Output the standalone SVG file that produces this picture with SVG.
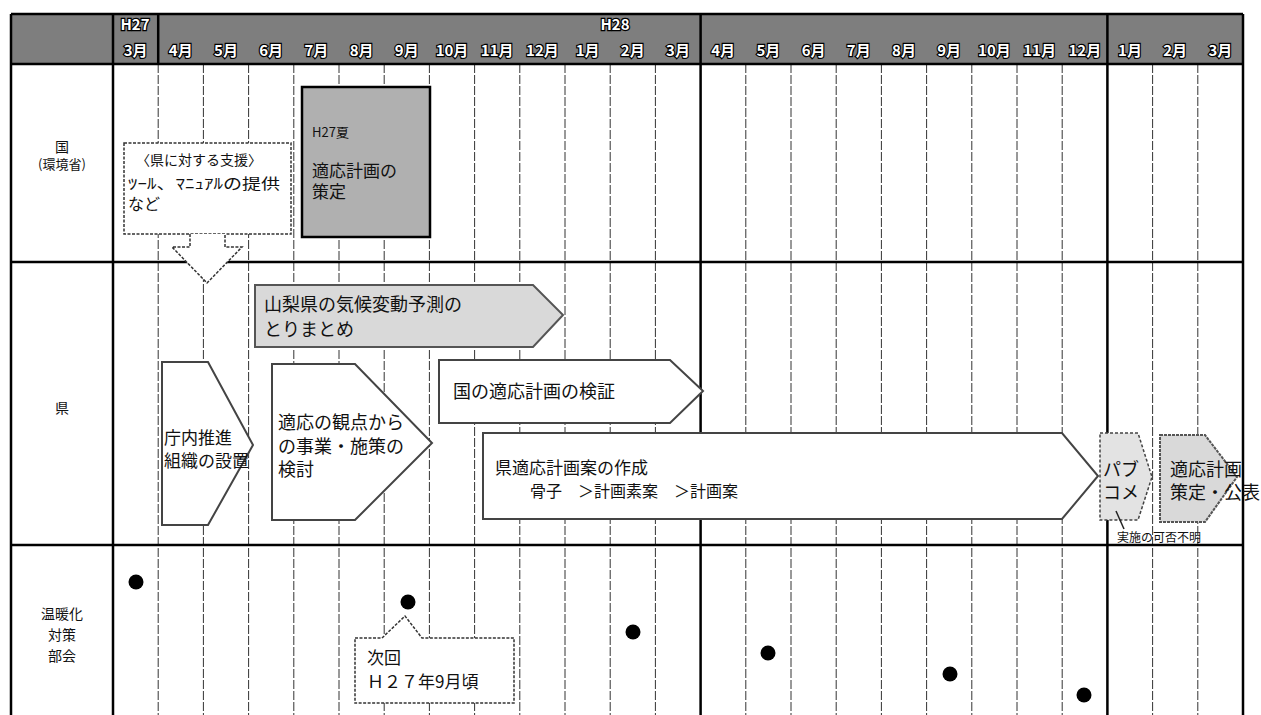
<svg xmlns="http://www.w3.org/2000/svg" width="1261" height="715" viewBox="0 0 1261 715">
<defs>
<style>
.t{font-family:"Noto Sans CJK JP","Noto Sans CJK SC",sans-serif;fill:#111;}
.h{font-family:"Noto Sans CJK JP","Noto Sans CJK SC",sans-serif;font-weight:bold;font-size:15px;fill:#fff;stroke:#000;stroke-width:2.4px;paint-order:stroke;text-anchor:middle}
.grid{stroke:#333;stroke-width:1;stroke-dasharray:9 2;fill:none}
.major{stroke:#000;stroke-width:2.5;fill:none}
.shape{fill:#fff;stroke:#444;stroke-width:2}
.gshape{fill:#d9d9d9;stroke:#555;stroke-width:2}
.dash{fill:#fff;stroke:#333;stroke-width:1.5;stroke-dasharray:3 1.5}
.dot{fill:#000}
</style>
</defs>
<rect x="0" y="0" width="1261" height="715" fill="#fff"/>

<g id="header">
<rect x="11" y="14" width="1232" height="50" fill="#7e7e7e"/>
<text class="h" x="135" y="30">H27</text>
<text class="h" x="615" y="30">H28</text>
<text class="h" x="135.6" y="56">3月</text>
<text class="h" x="180.8" y="56">4月</text>
<text class="h" x="226" y="56">5月</text>
<text class="h" x="271.2" y="56">6月</text>
<text class="h" x="316.4" y="56">7月</text>
<text class="h" x="361.6" y="56">8月</text>
<text class="h" x="406.8" y="56">9月</text>
<text class="h" x="452" y="56">10月</text>
<text class="h" x="497.2" y="56">11月</text>
<text class="h" x="542.4" y="56">12月</text>
<text class="h" x="587.6" y="56">1月</text>
<text class="h" x="632.8" y="56">2月</text>
<text class="h" x="678" y="56">3月</text>
<text class="h" x="723.2" y="56">4月</text>
<text class="h" x="768.4" y="56">5月</text>
<text class="h" x="813.6" y="56">6月</text>
<text class="h" x="858.8" y="56">7月</text>
<text class="h" x="904" y="56">8月</text>
<text class="h" x="949.2" y="56">9月</text>
<text class="h" x="994.4" y="56">10月</text>
<text class="h" x="1039.6" y="56">11月</text>
<text class="h" x="1084.8" y="56">12月</text>
<text class="h" x="1130" y="56">1月</text>
<text class="h" x="1175.2" y="56">2月</text>
<text class="h" x="1220.4" y="56">3月</text>
</g>

<g id="grid">
<path class="grid" d="M158.2,64V715M203.4,64V715M248.6,64V715M293.8,64V715M339,64V715M384.2,64V715M429.4,64V715M474.6,64V715M519.8,64V715M565,64V715M610.2,64V715M655.4,64V715M745.8,64V715M791,64V715M836.2,64V715M881.4,64V715M926.6,64V715M971.8,64V715M1017,64V715M1062.2,64V715M1152.6,64V715M1197.8,64V715"/>
<path class="major" d="M11,14H1243M11,64H1243M11,262H1243M11,545H1243M11,14V715M113,14V715M1243,14V715M700.6,14V715M1107.4,14V715M158.2,14V64"/>
</g>

<g id="row-labels">
<text class="t" x="62" y="152" font-size="14" text-anchor="middle">国</text>
<text class="t" x="62" y="169" font-size="13" text-anchor="middle">(環境省)</text>
<text class="t" x="62" y="413" font-size="14" text-anchor="middle">県</text>
<text class="t" x="62" y="619" font-size="14" text-anchor="middle">温暖化</text>
<text class="t" x="62" y="640" font-size="14" text-anchor="middle">対策</text>
<text class="t" x="62" y="661" font-size="14" text-anchor="middle">部会</text>
</g>

<g id="support">
<rect class="dash" x="124" y="143" width="167" height="91"/>
<path class="dash" d="M190,234V247H172L207,283L242,247H225V234"/>
<text class="t" x="136" y="165" font-size="14">〈県に対する支援〉</text>
<text class="t" x="128" y="189" font-size="15" textLength="152" lengthAdjust="spacingAndGlyphs">ﾂｰﾙ、ﾏﾆｭｱﾙの提供</text>
<text class="t" x="128" y="210" font-size="16">など</text>
</g>

<g id="kuni-plan">
<rect x="302" y="87" width="128" height="150" fill="#b0b0b0" stroke="#000" stroke-width="2.5"/>
<text class="t" x="312" y="137" font-size="13">H27夏</text>
<text class="t" x="312" y="177" font-size="17">適応計画の</text>
<text class="t" x="312" y="198" font-size="17">策定</text>
</g>

<g id="yamanashi">
<polygon class="gshape" points="255,285 533,285 563,315 533,347 255,347"/>
<text class="t" x="264" y="311" font-size="18">山梨県の気候変動予測の</text>
<text class="t" x="264" y="336" font-size="18">とりまとめ</text>
</g>

<g id="kensho">
<polygon class="shape" points="439,360 670,360 703,391 670,423 439,423"/>
<text class="t" x="453" y="398" font-size="18">国の適応計画の検証</text>
</g>

<g id="choucho">
<polygon class="shape" points="162,362 208,362 253,445 208,525 162,525"/>
<text class="t" x="164" y="444" font-size="17">庁内推進</text>
<text class="t" x="164" y="467" font-size="17">組織の設置</text>
</g>

<g id="kento">
<polygon class="shape" points="272,364 355,364 432,443 355,520 272,520"/>
<text class="t" x="278" y="429" font-size="18">適応の観点から</text>
<text class="t" x="278" y="453" font-size="18">の事業・施策の</text>
<text class="t" x="278" y="476" font-size="18">検討</text>
</g>

<g id="sakusei">
<polygon class="shape" points="483,433 1062,433 1098,476 1062,519 483,519"/>
<text class="t" x="495" y="474" font-size="17">県適応計画案の作成</text>
<text class="t" x="530" y="497" font-size="16">骨子　＞計画素案　＞計画案</text>
</g>

<g id="pabukome">
<polygon points="1100,433 1138,433 1152,477 1138,520 1100,520" fill="#e3e3e3" stroke="#444" stroke-width="1.5" stroke-dasharray="3 2"/>
<text class="t" x="1103" y="476" font-size="18">パブ</text>
<text class="t" x="1103" y="499" font-size="18">コメ</text>
<line x1="1116" y1="511" x2="1124" y2="529" stroke="#222" stroke-width="1.5"/>
<text class="t" x="1117" y="542" font-size="12">実施の可否不明</text>
</g>

<g id="kohyo">
<polygon points="1160,435 1205,435 1237,477 1205,522 1160,522" fill="#d9d9d9" stroke="#555" stroke-width="2" stroke-dasharray="3 1"/>
<text class="t" x="1170" y="476" font-size="18">適応計画</text>
<text class="t" x="1170" y="499" font-size="18">策定・公表</text>
</g>

<g id="meetings">
<circle class="dot" cx="136" cy="582" r="7.5"/>
<circle class="dot" cx="408" cy="602" r="7.5"/>
<circle class="dot" cx="633" cy="632" r="7.5"/>
<circle class="dot" cx="768" cy="653" r="7.5"/>
<circle class="dot" cx="950" cy="674" r="7.5"/>
<circle class="dot" cx="1084" cy="695" r="7.5"/>
</g>

<g id="callout">
<path class="dash" d="M355,638H382L405,616L422,638H514V703H355Z"/>
<text class="t" x="367" y="664" font-size="17">次回</text>
<text class="t" x="367" y="688" font-size="17">Ｈ２７年9月頃</text>
</g>
</svg>
